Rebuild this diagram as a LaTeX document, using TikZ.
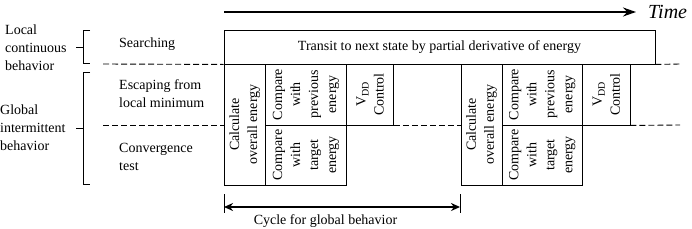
\documentclass[tikz,border=0pt]{standalone}
\usepackage{fontspec}
\setmainfont{Liberation Serif}
\usetikzlibrary{arrows.meta}
\begin{document}
\begin{tikzpicture}[x=1pt,y=-1pt,
  every node/.style={font=\fontsize{14}{18}\selectfont, inner sep=0pt},
  cell/.style={draw, line width=0.9pt, align=center},
  vcell/.style={cell, rotate=90},
  lbl/.style={align=left, anchor=west},
  sep/.style={dash pattern=on 6pt off 3pt, line width=0.9pt},
  brace/.style={line width=0.9pt},
  bigarrow/.style={line width=1.8pt, -{Stealth[length=13pt,width=9pt]}},
  cyclearrow/.style={line width=1.8pt, {Stealth[length=9pt,width=8pt]}-{Stealth[length=9pt,width=8pt]}},
]
\useasboundingbox (0,0) rectangle (692,228);

% time arrow
\coordinate (t0) at (224,12);
\coordinate (t1) at (636,12);
\draw[bigarrow] (t0) -- (t1);
\node[anchor=base west, font=\fontsize{20}{20}\selectfont\itshape] (time) at (648,18) {Time};

% searching box
\node[cell, minimum width=431pt, minimum height=34pt] (transit) at (439.5,47) {Transit to next state by partial derivative of energy};

% group 1
\node[vcell, minimum width=121pt, minimum height=41.5pt] (calcA) at (244.75,124.5) {Calculate\\overall energy};
\node[vcell, minimum width=61pt, minimum height=81pt] (prevA) at (306,94.5) {Compare\\with\\previous\\energy};
\node[vcell, minimum width=60pt, minimum height=81pt] (targA) at (306,155) {Compare\\with\\target\\energy};
\node[vcell, minimum width=61pt, minimum height=47pt] (vddA) at (370,94.5) {V\raisebox{-3pt}{\fontsize{10}{10}\selectfont DD}\\Control};

% group 2
\node[vcell, minimum width=121pt, minimum height=41pt] (calcB) at (481.5,124.5) {Calculate\\overall energy};
\node[vcell, minimum width=61pt, minimum height=80.5pt] (prevB) at (542.25,94.5) {Compare\\with\\previous\\energy};
\node[vcell, minimum width=60pt, minimum height=80.5pt] (targB) at (542.25,155) {Compare\\with\\target\\energy};
\node[vcell, minimum width=61pt, minimum height=47.5pt] (vddB) at (606.25,94.5) {V\raisebox{-3pt}{\fontsize{10}{10}\selectfont DD}\\Control};

% dashed separators
\coordinate (dl1) at (103,64);
\coordinate (dl2) at (103,125);
\coordinate (dr1) at (680,64);
\coordinate (dr2) at (680,125);
\draw[sep] (dl1) -- (transit.south west);
\draw[sep] (dl2) -- (dl2 -| transit.west);
\draw[sep] (transit.south east) -- (dr1);
\draw[sep] (vddA.south west) -- (vddA.south west -| calcB.north);
\draw[sep] (vddB.south west) -- (dr2);

% braces
\draw[brace] (90,30) -- (83,30) -- (83,63) -- (90,63);
\draw[brace] (83,47) -- (76,47);
\draw[brace] (90,72) -- (83,72) -- (83,184) -- (90,184);
\draw[brace] (83,128) -- (76,128);

% labels
\node[lbl] (local) at (5,47.5) {Local\\continuous\\behavior};
\node[lbl] (global) at (0,128) {Global\\intermittent\\behavior};
\node[lbl] (search) at (119,44) {Searching};
\node[lbl] (escape) at (119,94) {Escaping from\\local minimum};
\node[lbl] (conv) at (119,157) {Convergence\\test};

% cycle
\coordinate (c0) at (224,207);
\coordinate (c1) at (460,207);
\draw[cyclearrow] (c0) -- (c1);
\draw[brace] (224,194) -- (224,213);
\draw[brace] (460,194) -- (460,213);
\node (cycle) at (325.5,221.5) {Cycle for global behavior};
\end{tikzpicture}
\end{document}
